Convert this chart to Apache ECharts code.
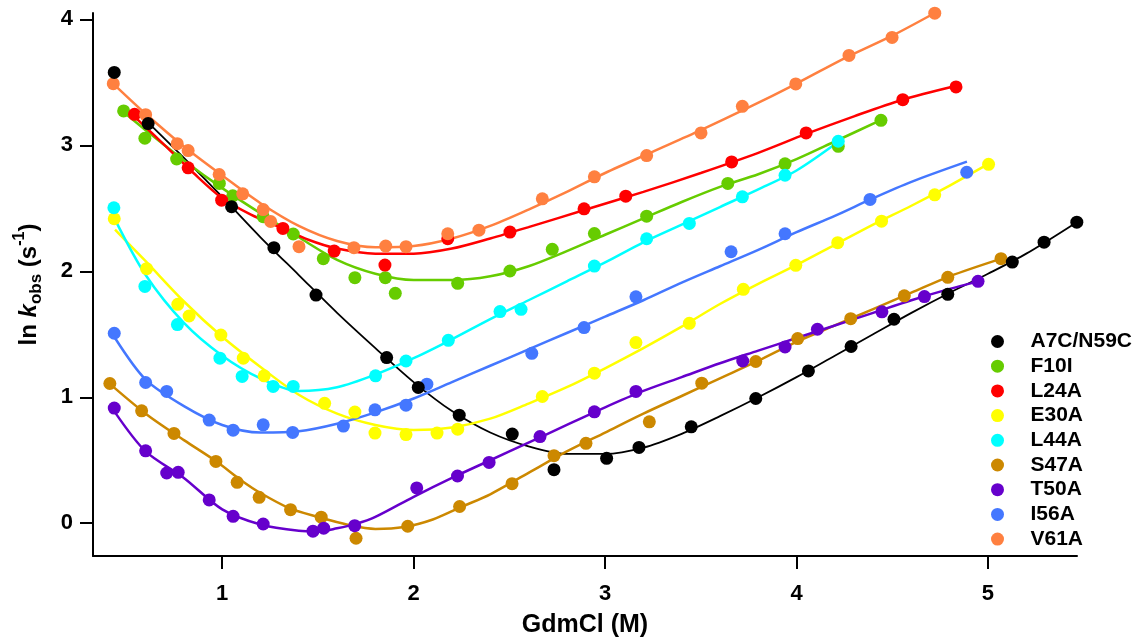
<!DOCTYPE html>
<html>
<head>
<meta charset="utf-8">
<script src="https://cdn.jsdelivr.net/npm/echarts@6/dist/echarts.min.js"></script>
<style>
  html, body { margin: 0; padding: 0; background: #fff; }
  #chart { width: 1139px; height: 643px; }
</style>
</head>
<body>
<div id="chart"></div>
<script>
// names and colours as in the legend
var mutants = ['A7C/N59C', 'F10I', 'L24A', 'E30A', 'L44A', 'S47A', 'T50A', 'I56A', 'V61A'];
var colors = ['#000000', '#66cc00', '#ff0000', '#ffff00', '#00ffff', '#cc8800', '#6600cc', '#4477ff', '#ff8040'];
var xTicks = [1, 2, 3, 4, 5];
var yTicks = [0, 1, 2, 3, 4];

// measured points [GdmCl (M), ln kobs]
var a7cPoints = [[0.436,3.578],[0.613,3.172],[1.049,2.512],[1.270,2.187],[1.490,1.811],[1.859,1.315],[2.024,1.078],[2.238,0.858],[2.515,0.708],[2.733,0.425],[3.008,0.515],[3.177,0.602],[3.450,0.765],[3.787,0.990],[4.062,1.209],[4.285,1.403],[4.509,1.619],[4.790,1.817],[5.127,2.073],[5.293,2.231],[5.464,2.390]];
var f10iPoints = [[0.485,3.273],[0.596,3.056],[0.762,2.891],[0.985,2.697],[1.055,2.599],[1.214,2.433],[1.371,2.296],[1.528,2.100],[1.693,1.949],[1.852,1.949],[1.904,1.825],[2.230,1.904],[2.503,2.002],[2.724,2.174],[2.944,2.300],[3.217,2.437],[3.641,2.697],[3.940,2.853],[4.218,2.992],[4.441,3.198]];
var l24aPoints = [[0.542,3.246],[0.822,2.821],[0.997,2.564],[1.317,2.340],[1.585,2.160],[1.850,2.049],[2.178,2.258],[2.503,2.311],[2.890,2.496],[3.108,2.596],[3.661,2.868],[4.050,3.098],[4.555,3.362],[4.833,3.463]];
var e30aPoints = [[0.436,2.417],[0.605,2.021],[0.768,1.738],[0.827,1.645],[0.993,1.494],[1.110,1.310],[1.219,1.170],[1.535,0.952],[1.693,0.882],[1.798,0.716],[1.960,0.704],[2.122,0.716],[2.230,0.747],[2.672,1.006],[2.944,1.191],[3.161,1.434],[3.440,1.587],[3.722,1.857],[3.996,2.047],[4.215,2.227],[4.444,2.398],[4.722,2.607],[5.003,2.849]];
var l44aPoints = [[0.434,2.504],[0.596,1.880],[0.766,1.577],[0.988,1.310],[1.104,1.165],[1.266,1.086],[1.371,1.086],[1.801,1.170],[1.960,1.288],[2.181,1.452],[2.451,1.680],[2.561,1.698],[2.944,2.041],[3.217,2.258],[3.440,2.380],[3.717,2.591],[3.940,2.762],[4.218,3.032]];
var s47aPoints = [[0.413,1.109],[0.579,0.892],[0.748,0.713],[0.967,0.491],[1.078,0.325],[1.193,0.206],[1.357,0.108],[1.517,0.048],[1.699,-0.119],[1.969,-0.024],[2.240,0.133],[2.514,0.314],[2.733,0.536],[2.900,0.634],[3.231,0.805],[3.505,1.112],[3.787,1.284],[4.006,1.466],[4.283,1.624],[4.563,1.805],[4.790,1.952],[5.068,2.100]];
var t50aPoints = [[0.436,0.914],[0.600,0.575],[0.710,0.399],[0.770,0.404],[0.932,0.185],[1.057,0.055],[1.214,-0.006],[1.474,-0.063],[1.530,-0.039],[1.692,-0.019],[2.016,0.280],[2.229,0.375],[2.394,0.483],[2.660,0.688],[2.944,0.884],[3.161,1.046],[3.719,1.288],[3.940,1.399],[4.109,1.540],[4.446,1.678],[4.668,1.799],[4.948,1.920]];
var i56aPoints = [[0.436,1.508],[0.600,1.117],[0.710,1.046],[0.932,0.819],[1.057,0.739],[1.214,0.781],[1.368,0.721],[1.633,0.771],[1.798,0.900],[1.960,0.937],[2.069,1.104],[2.617,1.349],[2.890,1.553],[3.161,1.797],[3.658,2.155],[3.940,2.298],[4.384,2.570],[4.889,2.786]];
var v61aPoints = [[0.431,3.489],[0.600,3.243],[0.765,3.013],[0.822,2.958],[0.984,2.768],[1.107,2.615],[1.214,2.490],[1.253,2.395],[1.401,2.195],[1.688,2.187],[1.854,2.200],[1.960,2.195],[2.178,2.298],[2.341,2.326],[2.672,2.575],[2.944,2.750],[3.217,2.918],[3.501,3.098],[3.717,3.309],[3.996,3.487],[4.274,3.713],[4.499,3.856],[4.722,4.049]];

// fitted curves
var a7cFit = [[0.6,3.2],[0.8,2.9],[1.0,2.59],[1.2,2.27],[1.4,1.97],[1.6,1.67],[1.8,1.39],[2.0,1.12],[2.2,0.89],[2.4,0.72],[2.6,0.61],[2.8,0.55],[3.0,0.55],[3.2,0.6],[3.4,0.71],[3.6,0.85],[3.8,1.0],[4.0,1.16],[4.2,1.33],[4.4,1.5],[4.6,1.67],[4.8,1.83],[5.0,1.98],[5.2,2.14],[5.464,2.39]];
var f10iFit = [[0.48,3.27],[0.6,3.12],[0.8,2.88],[1.0,2.66],[1.2,2.46],[1.4,2.27],[1.6,2.09],[1.8,1.98],[2.0,1.93],[2.2,1.93],[2.4,1.96],[2.6,2.04],[2.8,2.16],[3.0,2.29],[3.2,2.42],[3.4,2.55],[3.6,2.67],[3.8,2.77],[4.0,2.89],[4.2,3.03],[4.44,3.2]];
var l24aFit = [[0.54,3.23],[0.7,3.0],[0.85,2.78],[1.0,2.58],[1.15,2.45],[1.3,2.35],[1.45,2.25],[1.6,2.18],[1.8,2.14],[2.0,2.14],[2.2,2.18],[2.4,2.26],[2.6,2.35],[2.9,2.49],[3.2,2.63],[3.5,2.78],[3.8,2.94],[4.05,3.09],[4.3,3.23],[4.55,3.36],[4.83,3.47]];
var e30aFit = [[0.44,2.33],[0.6,2.08],[0.8,1.76],[1.0,1.48],[1.2,1.24],[1.4,1.02],[1.6,0.87],[1.8,0.78],[2.0,0.74],[2.2,0.76],[2.4,0.83],[2.6,0.95],[2.8,1.08],[3.0,1.23],[3.2,1.39],[3.4,1.56],[3.6,1.74],[3.8,1.9],[4.0,2.05],[4.2,2.21],[4.4,2.37],[4.6,2.52],[4.8,2.68],[5.0,2.85]];
var l44aFit = [[0.44,2.41],[0.6,1.97],[0.8,1.59],[1.0,1.33],[1.2,1.15],[1.4,1.05],[1.6,1.08],[1.8,1.18],[2.0,1.31],[2.2,1.46],[2.4,1.62],[2.6,1.77],[2.8,1.92],[3.0,2.07],[3.2,2.23],[3.4,2.37],[3.6,2.51],[3.8,2.65],[4.0,2.8],[4.22,3.03]];
var s47aFit = [[0.41,1.11],[0.6,0.87],[0.8,0.66],[0.97,0.49],[1.1,0.34],[1.2,0.24],[1.35,0.12],[1.5,0.05],[1.65,-0.01],[1.8,-0.045],[1.95,-0.03],[2.1,0.03],[2.25,0.13],[2.4,0.23],[2.6,0.4],[2.8,0.57],[3.0,0.72],[3.2,0.87],[3.4,1.01],[3.6,1.15],[3.8,1.29],[4.0,1.44],[4.2,1.57],[4.4,1.7],[4.6,1.83],[4.8,1.96],[5.07,2.1]];
var t50aFit = [[0.44,0.88],[0.6,0.57],[0.8,0.36],[1.0,0.11],[1.2,-0.01],[1.4,-0.06],[1.5,-0.065],[1.6,-0.04],[1.7,-0.005],[1.8,0.05],[2.0,0.21],[2.2,0.36],[2.4,0.5],[2.6,0.64],[2.8,0.78],[3.0,0.92],[3.2,1.05],[3.4,1.16],[3.6,1.27],[3.8,1.37],[4.0,1.47],[4.2,1.57],[4.4,1.67],[4.6,1.77],[4.8,1.86],[4.95,1.92]];
var i56aFit = [[0.44,1.47],[0.6,1.14],[0.8,0.93],[1.0,0.78],[1.2,0.72],[1.4,0.73],[1.6,0.79],[1.8,0.88],[2.0,0.99],[2.2,1.12],[2.4,1.25],[2.6,1.38],[2.8,1.51],[3.0,1.64],[3.2,1.77],[3.4,1.91],[3.6,2.04],[3.8,2.17],[4.0,2.31],[4.2,2.44],[4.4,2.58],[4.6,2.71],[4.89,2.87]];
var v61aFit = [[0.43,3.49],[0.6,3.25],[0.8,2.99],[1.0,2.76],[1.2,2.54],[1.4,2.36],[1.6,2.24],[1.8,2.19],[2.0,2.2],[2.2,2.26],[2.4,2.36],[2.6,2.49],[2.8,2.63],[3.0,2.78],[3.25,2.95],[3.5,3.12],[3.75,3.3],[4.0,3.49],[4.25,3.69],[4.5,3.87],[4.722,4.05]];

var allPoints = [a7cPoints, f10iPoints, l24aPoints, e30aPoints, l44aPoints, s47aPoints, t50aPoints, i56aPoints, v61aPoints];
var allFits = [a7cFit, f10iFit, l24aFit, e30aFit, l44aFit, s47aFit, t50aFit, i56aFit, v61aFit];

var font = '"Liberation Sans", Arial, Helvetica, sans-serif';

var series = [];
mutants.forEach(function (name, i) {
    series.push({
        name: 'fit ' + name,
        type: 'line',
        data: allFits[i],
        smooth: 0.3,
        showSymbol: false,
        silent: true,
        z: 2,
        lineStyle: { color: colors[i], width: i == 0 ? 1.8 : 2.5 }
    });
});
mutants.forEach(function (name, i) {
    series.push({
        name: name,
        type: 'scatter',
        data: allPoints[i],
        symbol: 'circle',
        symbolSize: 13,
        clip: false,
        z: i == 0 ? 4 : 3,
        itemStyle: { color: colors[i], opacity: 1 }
    });
});

var chart = echarts.init(document.getElementById('chart'), null, { renderer: 'canvas' });
chart.setOption({
    animation: false,
    backgroundColor: '#ffffff',
    color: colors,
    grid: { left: 93, right: 62, top: 13, bottom: 86, containLabel: false },
    legend: {
        orient: 'vertical',
        left: 986,
        top: 326,
        itemWidth: 56,
        itemHeight: 13,
        itemGap: 3.7,
        icon: 'circle',
        data: mutants,
        textStyle: { fontFamily: font, fontWeight: 'bold', fontSize: 21, color: '#000' }
    },
    xAxis: {
        type: 'value',
        min: 0.325,
        max: 5.465,
        name: 'GdmCl (M)',
        nameLocation: 'middle',
        nameGap: 57,
        nameTextStyle: { fontFamily: font, fontWeight: 'bold', fontSize: 25, color: '#000' },
        axisLine: { show: true, onZero: false, lineStyle: { color: '#000', width: 2 } },
        axisTick: { show: true, customValues: xTicks, length: 13, lineStyle: { color: '#000', width: 2 } },
        axisLabel: { customValues: xTicks, margin: 27, fontFamily: font, fontWeight: 'bold', fontSize: 22, color: '#000' },
        splitLine: { show: false }
    },
    yAxis: {
        type: 'value',
        min: -0.26,
        max: 4.05,
        name: '{a|ln }{k|k}{sub|obs}{a| (s}{sup|-1}{a|)}',
        nameLocation: 'middle',
        nameGap: 46,
        nameTextStyle: {
            fontFamily: font, fontWeight: 'bold', fontSize: 24, color: '#000',
            rich: {
                a: { fontFamily: font, fontWeight: 'bold', fontSize: 24, color: '#000', lineHeight: 35, verticalAlign: 'middle' },
                k: { fontFamily: font, fontWeight: 'bold', fontStyle: 'italic', fontSize: 24, color: '#000', lineHeight: 35, verticalAlign: 'middle' },
                sub: { fontFamily: font, fontWeight: 'bold', fontSize: 17, color: '#000', lineHeight: 35, verticalAlign: 'bottom', padding: [0, 0, 2, 0] },
                sup: { fontFamily: font, fontWeight: 'bold', fontSize: 16, color: '#000', lineHeight: 35, verticalAlign: 'top' }
            }
        },
        axisLine: { show: true, onZero: false, lineStyle: { color: '#000', width: 2 } },
        axisTick: { show: true, customValues: yTicks, length: 13, lineStyle: { color: '#000', width: 2 } },
        axisLabel: { customValues: yTicks, margin: 20, fontFamily: font, fontWeight: 'bold', fontSize: 22, color: '#000' },
        splitLine: { show: false }
    },
    series: series
});
</script>
</body>
</html>
